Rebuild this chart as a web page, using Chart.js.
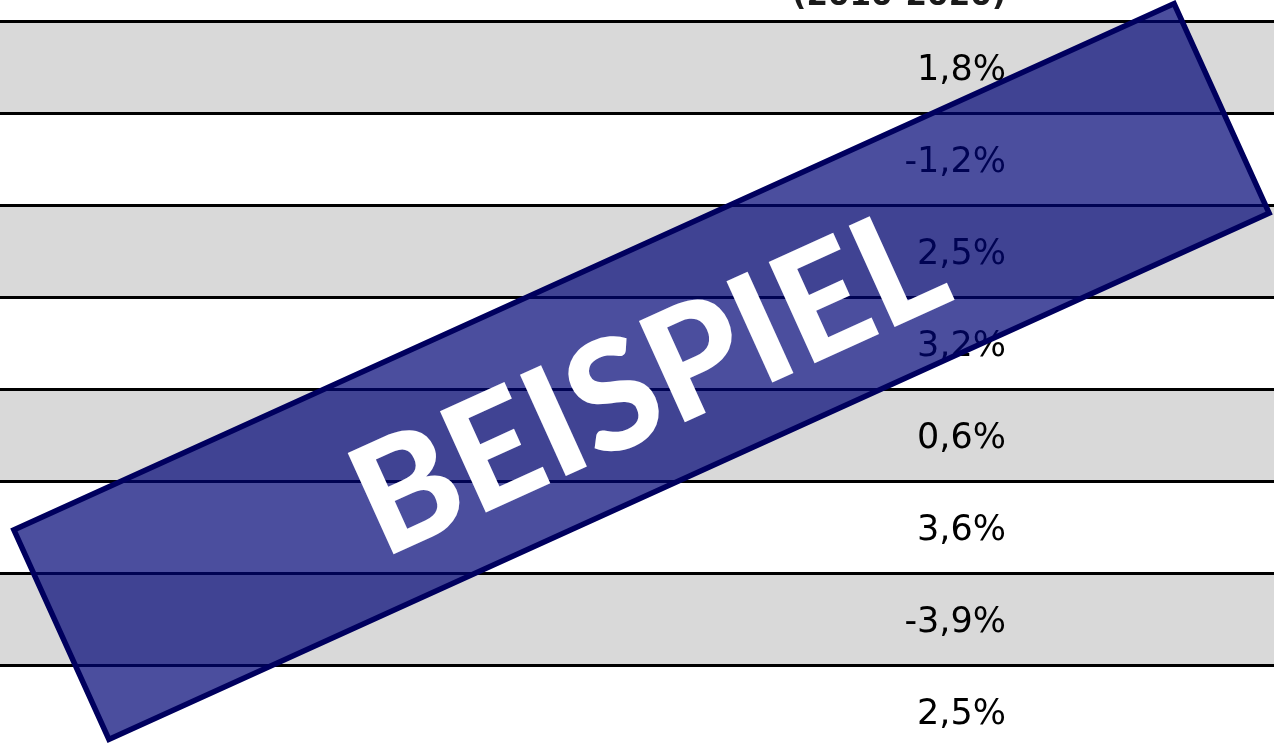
<!DOCTYPE html>
<html>
<head>
<meta charset="utf-8">
<script src="https://cdn.jsdelivr.net/npm/chart.js@4.4.1/dist/chart.umd.min.js"></script>
<style>
html,body{margin:0;padding:0;background:#fff;overflow:hidden}
#wrap{position:relative;width:1274px;height:746px;overflow:hidden;background:#fff}
canvas{display:block}
</style>
</head>
<body>
<div id="wrap"><canvas id="c" width="1274" height="759"></canvas></div>
<script>
// ---- data ----
const rowCategories = ['Zeile 1','Zeile 2','Zeile 3','Zeile 4','Zeile 5','Zeile 6','Zeile 7','Zeile 8'];
const growthValues = [1.8, -1.2, 2.5, 3.2, 0.6, 3.6, -3.9, 2.5];
const columnHeader = '(2010-2020)';
const stampText = 'BEISPIEL';

function fmtPct(v){ return v.toFixed(1).replace('.', ',') + '%'; }

const valueTextPlugin = {
  id: 'valueText',
  afterDatasetsDraw(chart){
    const ctx = chart.ctx;
    const y = chart.scales.y;
    ctx.save();
    ctx.fillStyle = '#000';
    ctx.textAlign = 'right';
    ctx.textBaseline = 'alphabetic';
    ctx.font = '35px "DejaVu Sans"';
    growthValues.forEach((v, i) => {
      const py = y.getPixelForValue(i);
      ctx.fillText(fmtPct(v), 1006, py + 12.5);
    });
    // column header (only its lower part is visible)
    ctx.font = 'bold 31px "DejaVu Sans"';
    ctx.fillStyle = '#1a1a1a';
    ctx.fillText(columnHeader, 1006, chart.chartArea.top - 16);
    ctx.restore();
  }
};

const stampPlugin = {
  id: 'stamp',
  afterDraw(chart){
    const ctx = chart.ctx;
    ctx.save();
    ctx.translate(641.5, 371.5);
    ctx.rotate(-24.4 * Math.PI / 180);
    ctx.beginPath();
    ctx.rect(-637, -115, 1274, 230);
    ctx.fillStyle = 'rgba(0,4,118,0.706)';
    ctx.fill();
    ctx.lineWidth = 5.5;
    ctx.lineJoin = 'miter';
    ctx.strokeStyle = '#00005e';
    ctx.stroke();
    ctx.font = '900 153px Lato';
    ctx.fillStyle = '#ffffff';
    ctx.textAlign = 'center';
    ctx.textBaseline = 'alphabetic';
    ctx.fillText(stampText, 2, 64);
    ctx.restore();
  }
};

function build(){
  new Chart(document.getElementById('c'), {
    type: 'bar',
    data: {
      labels: rowCategories,
      datasets: [{
        label: 'Zeilen',
        data: rowCategories.map(() => [0, 1]),
        backgroundColor: (c) => (c.dataIndex % 2 === 0 ? '#d9d9d9' : '#ffffff'),
        borderWidth: 0,
        borderSkipped: false,
        categoryPercentage: 1,
        barPercentage: 1
      }]
    },
    options: {
      indexAxis: 'y',
      responsive: false,
      animation: false,
      events: [],
      layout: { padding: { top: 21, bottom: 1, left: 0, right: 0 } },
      plugins: { legend: { display: false }, tooltip: { enabled: false } },
      scales: {
        x: { display: false, min: 0, max: 1 },
        y: {
          type: 'category',
          offset: true,
          grid: { offset: true, color: '#000', lineWidth: 3, drawTicks: false, z: 1 },
          ticks: { display: false },
          border: { display: false }
        }
      }
    },
    plugins: [valueTextPlugin, stampPlugin]
  });
}

Promise.all([
  document.fonts.load('900 153px Lato'),
  document.fonts.load('35px "DejaVu Sans"'),
  document.fonts.load('bold 31px "DejaVu Sans"')
]).then(build, build);
</script>
</body>
</html>
